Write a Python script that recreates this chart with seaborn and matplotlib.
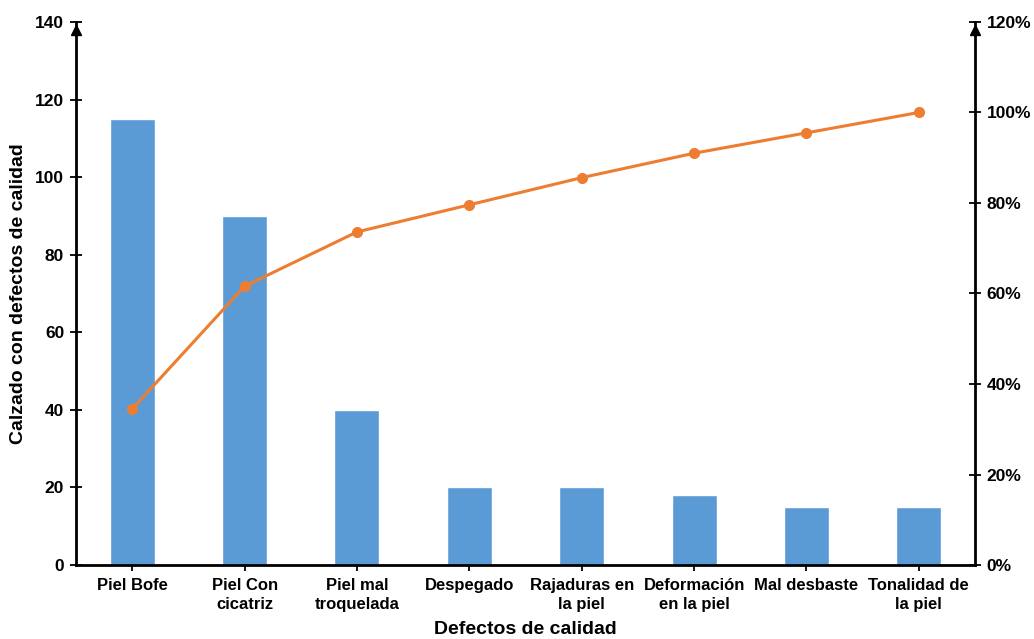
import matplotlib
matplotlib.use("Agg")
import matplotlib.pyplot as plt
import seaborn as sns
import pandas as pd
from matplotlib.ticker import FuncFormatter, MultipleLocator

categories = ["Piel Bofe", "Piel Con\ncicatriz", "Piel mal\ntroquelada", "Despegado",
              "Rajaduras en\nla piel", "Deformación\nen la piel", "Mal desbaste",
              "Tonalidad de\nla piel"]
counts = [115, 90, 40, 20, 20, 18, 15, 15]
cum_pct = [0.345, 0.616, 0.736, 0.796, 0.856, 0.910, 0.955, 1.000]

sns.set_theme(style="white")
plt.rcParams["font.family"] = ["Liberation Sans", "DejaVu Sans"]

bar_color = "#5B9BD5"
line_color = "#ED7D31"

df = pd.DataFrame({"cat": categories, "n": counts, "cum": cum_pct})

fig = plt.figure(figsize=(10.34, 6.39), dpi=100)
ax = fig.add_axes([0.0735, 0.1158, 0.8695, 0.8498])

sns.barplot(data=df, x="cat", y="n", color=bar_color, saturation=1, width=0.4, ax=ax)
ax.set_xlim(-0.5, len(categories) - 0.5)
ax.set_ylim(0, 140)
ax.yaxis.set_major_locator(MultipleLocator(20))

ax2 = ax.twinx()
sns.lineplot(data=df, x="cat", y="cum", color=line_color, marker="o", markersize=8,
             markeredgewidth=0, linewidth=2.2, sort=False, ax=ax2)
ax2.set_ylim(0, 1.2)
ax2.yaxis.set_major_locator(MultipleLocator(0.2))
ax2.yaxis.set_major_formatter(FuncFormatter(lambda v, p: f"{v*100:.0f}%"))
ax2.set_xlim(-0.5, len(categories) - 0.5)

for a in (ax, ax2):
    for s in a.spines.values():
        s.set_visible(False)
    a.grid(False)

ax.spines["left"].set_visible(True)
ax.spines["bottom"].set_visible(True)
ax2.spines["right"].set_visible(True)
for s in (ax.spines["left"], ax.spines["bottom"], ax2.spines["right"]):
    s.set_color("black")
    s.set_linewidth(2)

ax.tick_params(axis="y", direction="inout", length=9, width=1.3, color="black",
               labelsize=12.5, pad=4, left=True)
ax.tick_params(axis="x", direction="inout", length=9, width=1.3, color="black",
               labelsize=12, pad=5, bottom=True)
ax2.tick_params(axis="y", direction="inout", length=9, width=1.3, color="black",
                labelsize=12.5, pad=4, right=True)
for lbl in ax.get_xticklabels() + ax.get_yticklabels() + ax2.get_yticklabels():
    lbl.set_fontweight("bold")
    lbl.set_color("black")
for lbl in ax.get_xticklabels():
    lbl.set_linespacing(1.35)

ax.set_xlabel("Defectos de calidad", fontsize=14, fontweight="bold", color="black", labelpad=6)
ax.set_ylabel("Calzado con defectos de calidad", fontsize=14, fontweight="bold",
              color="black", labelpad=6)
ax2.set_ylabel("")

# arrowheads at the top of both vertical axes
for xpos in (0, 1):
    ax.plot([xpos], [0.985], marker="^", color="black", markersize=7,
            transform=ax.transAxes, clip_on=False, zorder=10)

fig.savefig("out.png", dpi=100)
